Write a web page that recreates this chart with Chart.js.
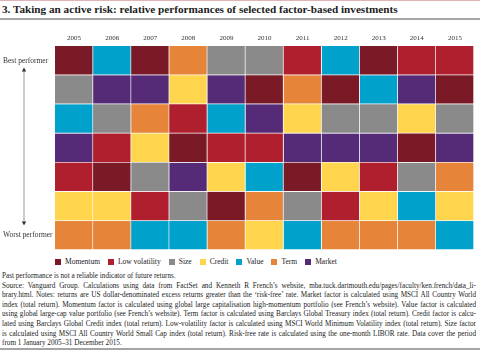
<!DOCTYPE html>
<html>
<head>
<meta charset="utf-8">
<script src="https://cdn.jsdelivr.net/npm/chart.js@4"></script>
<style>
  body { margin: 0; width: 480px; height: 351px; background: #fff; position: relative; overflow: hidden;
         font-family: "Liberation Serif", serif; color: #222; }
  .topline { position: absolute; left: 0; top: 0; width: 480px; height: 1px; background: #e2b3b6; }
  .title { position: absolute; left: 2px; top: 3px; font-weight: bold; font-size: 11.2px; letter-spacing: 0; color: #222; white-space: nowrap; }
  .rule { position: absolute; left: 0; top: 18px; width: 480px; height: 2px; background: #a5a5a5; }
  .chartbox { position: absolute; left: 0; top: 28px; width: 480px; height: 223px; }
  #legend { position: absolute; left: 55px; top: 257px; font-size: 7.5px; display: flex; align-items: center; }
  #legend span.item { display: inline-flex; align-items: center; margin-right: 8px; }
  #legend span.box { width: 6px; height: 6px; margin-right: 4px; display: inline-block; }
  .note { position: absolute; left: 2px; width: 474px; font-size: 7.2px; line-height: 9.6px; height: 9.6px;
          color: #222; text-align: justify; text-align-last: justify; overflow: hidden; }
  .note.last { text-align-last: left; }
  .bottomrule { position: absolute; left: 0; top: 348px; width: 480px; height: 2px; background: #a5a5a5; }
</style>
</head>
<body>
<div class="topline"></div>
<div class="title">3. Taking an active risk: relative performances of selected factor-based investments</div>
<div class="rule"></div>
<div class="chartbox"><canvas id="chart"></canvas></div>
<div id="legend"></div>
<div class="note last" style="top:272px">Past performance is not a reliable indicator of future returns.</div>
<div class="note" style="top:281.6px">Source: Vanguard Group. Calculations using data from FactSet and Kenneth R French’s website, mba.tuck.dartmouth.edu/pages/faculty/ken.french/data_li-</div>
<div class="note" style="top:291.2px">brary.html. Notes: returns are US dollar-denominated excess returns greater than the ‘risk-free’ rate. Market factor is calculated using MSCI All Country World</div>
<div class="note" style="top:300.8px">index (total return). Momentum factor is calculated using global large capitalisation high-momentum portfolio (see French’s website). Value factor is calculated</div>
<div class="note" style="top:310.4px">using global large-cap value portfolio (see French’s website). Term factor is calculated using Barclays Global Treasury index (total return). Credit factor is calcu-</div>
<div class="note" style="top:320px">lated using Barclays Global Credit index (total return). Low-volatility factor is calculated using MSCI World Minimum Volatility index (total return). Size factor</div>
<div class="note" style="top:329.6px">is calculated using MSCI All Country World Small Cap index (total return). Risk-free rate is calculated using the one-month LIBOR rate. Data cover the period</div>
<div class="note last" style="top:339.2px">from 1 January 2005–31 December 2015.</div>
<div class="bottomrule"></div>

<script>
const years = ["2005", "2006", "2007", "2008", "2009", "2010", "2011", "2012", "2013", "2014", "2015"]
const factors = ["Momentum", "Low volatility", "Size", "Credit", "Value", "Term", "Market"]
const factorColors = ["#7a1a27", "#b01f2d", "#8a8a8a", "#fed54c", "#00a2cc", "#e6853a", "#552a77"]

// which factor came 1st .. 7th in each year
const rank1 = ["Momentum", "Value", "Momentum", "Term", "Size", "Size", "Low volatility", "Value", "Momentum", "Low volatility", "Low volatility"]
const rank2 = ["Size", "Market", "Market", "Credit", "Market", "Momentum", "Term", "Momentum", "Value", "Market", "Momentum"]
const rank3 = ["Value", "Size", "Term", "Low volatility", "Value", "Market", "Credit", "Size", "Size", "Credit", "Size"]
const rank4 = ["Market", "Low volatility", "Credit", "Momentum", "Low volatility", "Low volatility", "Market", "Market", "Market", "Momentum", "Market"]
const rank5 = ["Low volatility", "Momentum", "Size", "Market", "Credit", "Value", "Momentum", "Credit", "Low volatility", "Size", "Term"]
const rank6 = ["Credit", "Credit", "Low volatility", "Size", "Momentum", "Term", "Size", "Low volatility", "Credit", "Value", "Credit"]
const rank7 = ["Term", "Term", "Value", "Value", "Term", "Credit", "Value", "Term", "Term", "Term", "Value"]
const ranks = [rank1, rank2, rank3, rank4, rank5, rank6, rank7]

const rowLabels = ["Best performer", "Worst performer"]

const datasets = factors.map((f, i) => ({
    label: f,
    backgroundColor: factorColors[i],
    borderColor: "rgba(255,255,255,0.6)",
    borderWidth: { top: 0, left: 0, right: 1, bottom: 1 },
    borderSkipped: false,
    data: years.map((y, j) => {
        const r = ranks.findIndex(row => row[j] === f)
        return [6 - r, 7 - r]
    })
}))

const arrowPlugin = {
    id: "arrow",
    afterDraw(chart) {
        const ctx = chart.ctx
        const yScale = chart.scales.y
        const x = 24
        const y1 = yScale.getPixelForValue(6.5) + 7
        const y2 = yScale.getPixelForValue(0.5) - 10
        ctx.save()
        ctx.strokeStyle = "#999"
        ctx.lineWidth = 1
        ctx.beginPath()
        ctx.moveTo(x, y1 + 3)
        ctx.lineTo(x, y2 - 3)
        ctx.stroke()
        ctx.fillStyle = "#333"
        ctx.beginPath()
        ctx.moveTo(x, y1); ctx.lineTo(x - 2.2, y1 + 4); ctx.lineTo(x + 2.2, y1 + 4); ctx.closePath()
        ctx.fill()
        ctx.beginPath()
        ctx.moveTo(x, y2); ctx.lineTo(x - 2.2, y2 - 4); ctx.lineTo(x + 2.2, y2 - 4); ctx.closePath()
        ctx.fill()
        ctx.restore()
    }
}

const chart = new Chart(document.getElementById("chart").getContext("2d"), {
    type: "bar",
    data: { labels: years, datasets: datasets },
    options: {
        responsive: true,
        maintainAspectRatio: false,
        animation: false,
        layout: { padding: { left: 3, right: 6, top: 0, bottom: 1 } },
        datasets: { bar: { grouped: false, barPercentage: 1, categoryPercentage: 1 } },
        plugins: { legend: { display: false }, tooltip: { enabled: false } },
        scales: {
            x: {
                position: "top",
                grid: { display: false, drawTicks: false },
                border: { display: false },
                ticks: { font: { family: "Liberation Serif", size: 7 }, color: "#333", padding: 4, maxRotation: 0 },
                afterFit: s => { s.height = 18; s.paddingLeft = 0; s.paddingRight = 0 }
            },
            y: {
                min: 0,
                max: 7,
                grid: { display: false, drawTicks: false },
                border: { display: false },
                afterBuildTicks: s => { s.ticks = [{ value: 6.5 }, { value: 0.5 }] },
                ticks: {
                    crossAlign: "far",
                    font: { family: "Liberation Serif", size: 7.5 },
                    color: "#333",
                    callback: v => v > 3 ? rowLabels[0] : rowLabels[1]
                },
                afterFit: s => { s.width = 52; s.paddingTop = 0; s.paddingBottom = 0 }
            }
        }
    },
    plugins: [arrowPlugin]
})

const legend = document.getElementById("legend")
factors.forEach((f, i) => {
    const item = document.createElement("span")
    item.className = "item"
    item.innerHTML = '<span class="box" style="background:' + factorColors[i] + '"></span>' + f
    legend.appendChild(item)
})
</script>
</body>
</html>
